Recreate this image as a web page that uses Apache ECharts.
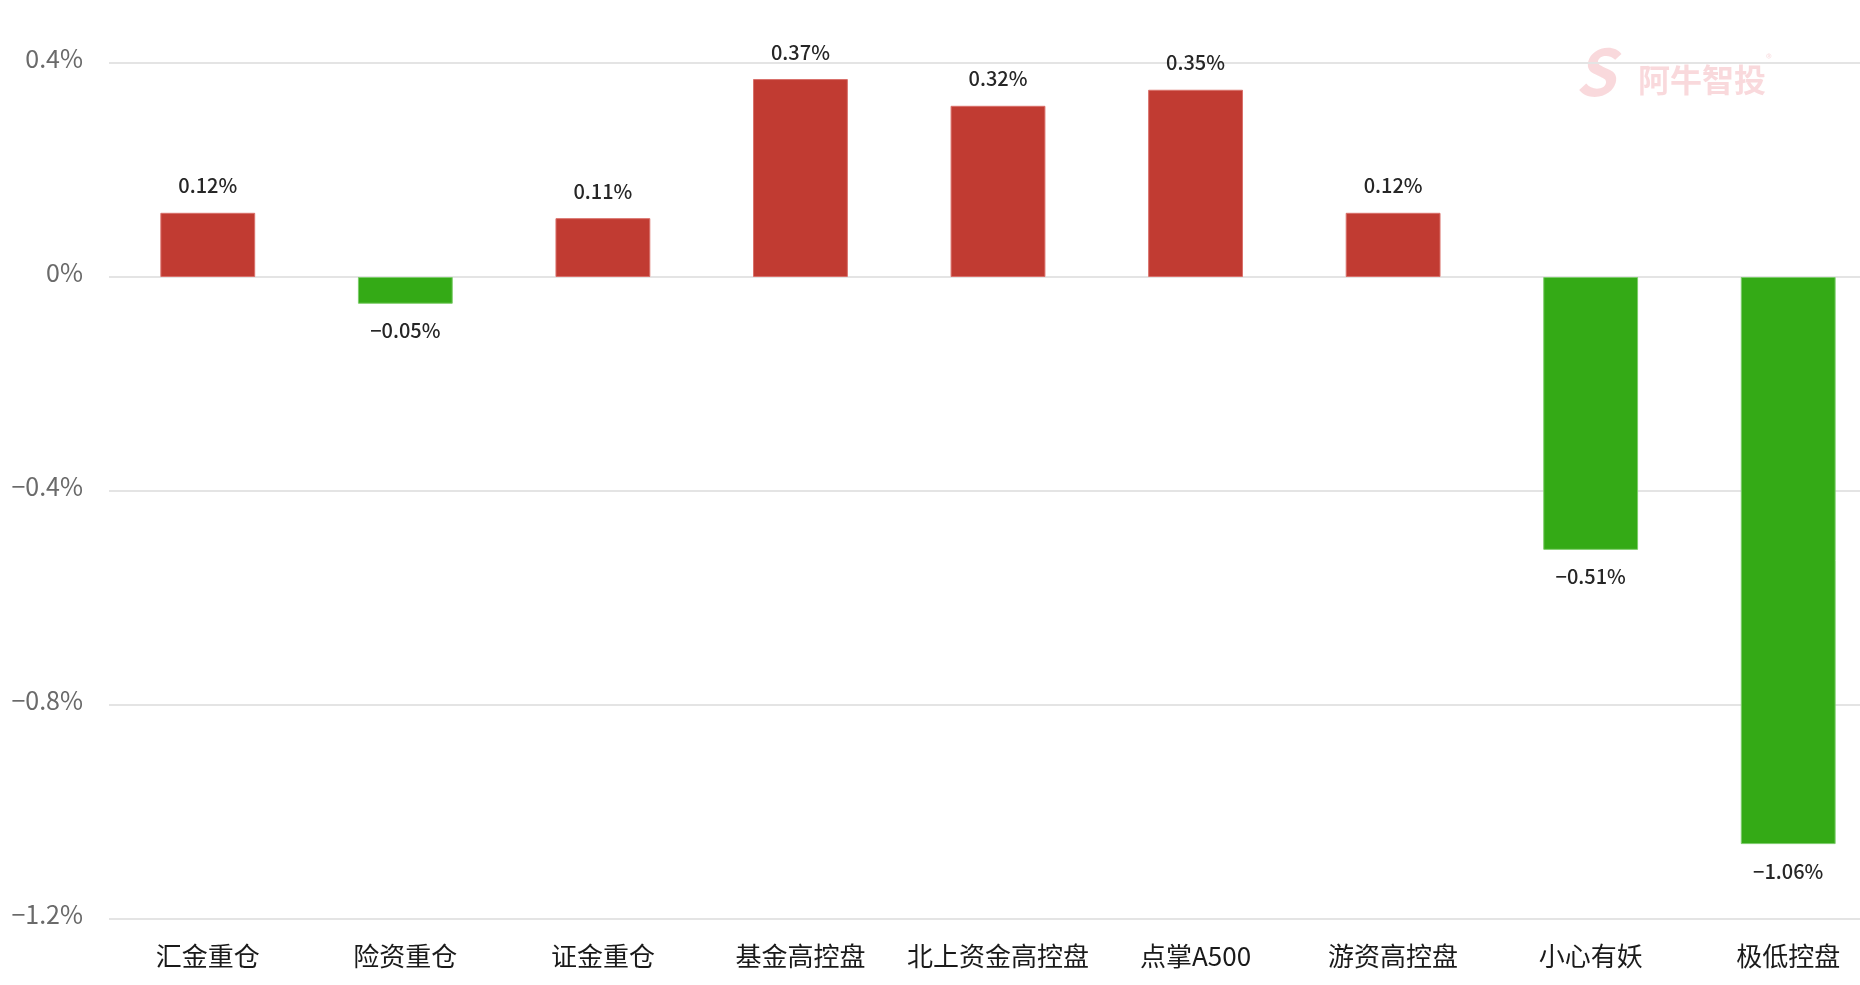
<!DOCTYPE html>
<html>
<head>
<meta charset="utf-8">
<script src="https://cdn.jsdelivr.net/npm/echarts@6/dist/echarts.min.js"></script>
<style>
html,body{margin:0;padding:0;background:#fff;overflow:hidden;width:1860px;height:985px;}
#chart{width:1887px;height:985px;}
</style>
</head>
<body>
<div id="chart"></div>
<script>
const categories = ['汇金重仓','险资重仓','证金重仓','基金高控盘','北上资金高控盘','点掌A500','游资高控盘','小心有妖','极低控盘'];
const values = [0.12, -0.05, 0.11, 0.37, 0.32, 0.35, 0.12, -0.51, -1.06];
const yTicks = { min: -1.2, max: 0.4, interval: 0.4 };

const RED = '#C13B32', GREEN = '#34AA16';
const FONT = '"Noto Sans CJK SC","Noto Sans",sans-serif';

function fmt(v){
  const s = (Math.round(v*100)/100).toString();
  return (v < 0 ? '\u2212' + s.slice(1) : s) + '%';
}

const chart = echarts.init(document.getElementById('chart'));
chart.setOption({
  animation: false,
  backgroundColor: '#fff',
  grid: { left: 109, right: 0, top: 63, bottom: 66, containLabel: false },
  xAxis: {
    type: 'category',
    data: categories,
    axisLine: { show: false },
    axisTick: { show: false },
    axisLabel: { interval: 0, color: '#1a1a1a', fontSize: 26, fontFamily: FONT, margin: 24 }
  },
  yAxis: {
    type: 'value',
    min: yTicks.min, max: yTicks.max, interval: yTicks.interval,
    axisLine: { show: false },
    axisTick: { show: false },
    splitLine: { lineStyle: { color: '#e4e4e4', width: 2 } },
    axisLabel: {
      color: '#6a6a6a', fontSize: 25, fontFamily: FONT, margin: 26,
      verticalAlign: 'bottom',
      lineHeight: 10,
      formatter: v => {
        const r = Math.round(v*10)/10;
        if (r === 0) return '0%';
        return (r < 0 ? '\u2212' + (-r) : r) + '%';
      }
    }
  },
  series: [{
    type: 'bar',
    barWidth: '48%',
    data: values.map(v => ({
      value: v,
      itemStyle: {
        color: v >= 0 ? RED : GREEN,
        borderColor: v >= 0 ? '#d9706a' : '#7ccc6a',
        borderWidth: 1
      },
      label: {
        show: true,
        position: v >= 0 ? 'top' : 'bottom',
        distance: 17,
        formatter: () => fmt(v),
        color: '#262626',
        fontSize: 20,
        fontWeight: 500,
        fontFamily: FONT
      }
    }))
  }],
  graphic: [{
    type: 'text',
    left: 1638, top: 64,
    style: { text: '阿牛智投', fill: 'rgba(232,120,130,0.28)', font: 'bold 32px ' + FONT }
  },{
    type: 'text',
    left: 1766, top: 52,
    style: { text: '®', fill: 'rgba(232,120,130,0.25)', font: '12px ' + FONT }
  },{
    type: 'text',
    left: 1575, top: 40,
    style: { text: 'S', fill: 'rgba(232,120,130,0.28)', font: 'italic bold 64px ' + FONT }
  }]
});
</script>
</body>
</html>
